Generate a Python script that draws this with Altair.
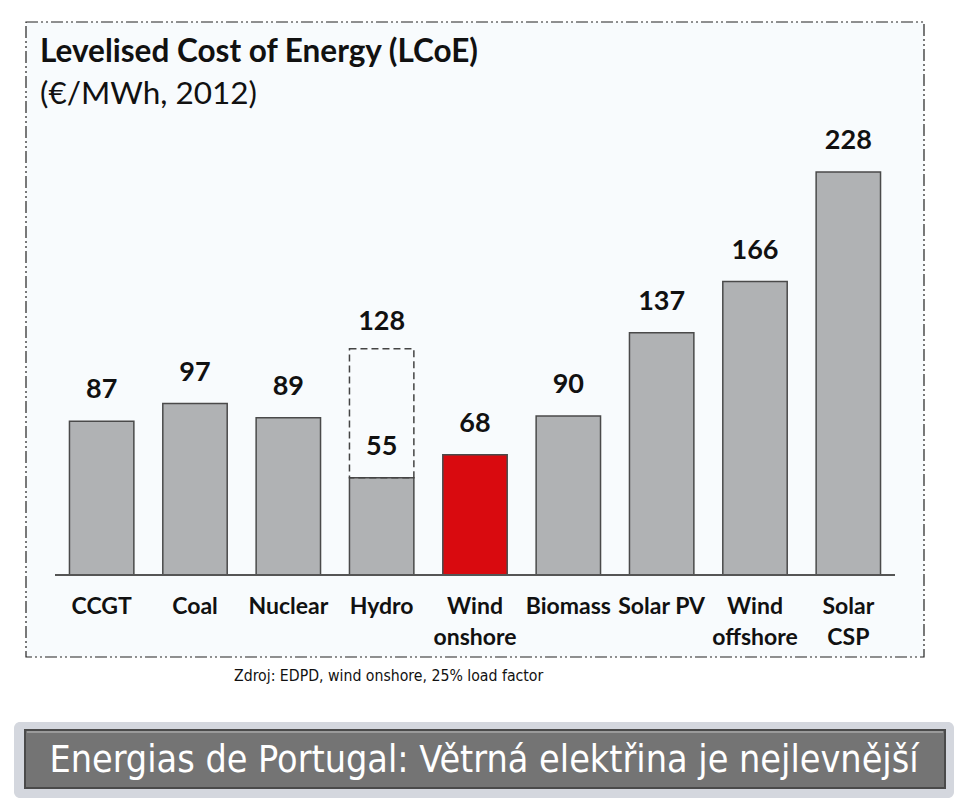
import altair as alt
import pandas as pd

categories = ["CCGT", "Coal", "Nuclear", "Hydro", "Wind|onshore", "Biomass",
              "Solar PV", "Wind|offshore", "Solar|CSP"]
values = [87, 97, 89, 55, 68, 90, 137, 166, 228]
colors = ["#b0b2b4", "#b0b2b4", "#b0b2b4", "#b0b2b4", "#d90a0f", "#b0b2b4",
          "#b0b2b4", "#b0b2b4", "#b0b2b4"]
hydro_upper = [128]
hydro_cat = ["Hydro"]

df = pd.DataFrame({"cat": categories, "val": values, "color": colors,
                   "lab": [str(v) for v in values]})
dh = pd.DataFrame({"cat": hydro_cat, "val": hydro_upper, "lab": [str(v) for v in hydro_upper]})

W, H = 960, 802
xs = alt.Scale(domain=categories, range=[55, 895], paddingInner=0.31, paddingOuter=0.155)
ys = alt.Scale(domain=[0, 250], range=[575, 133])
X = alt.X("cat:N", scale=xs, axis=None, sort=categories)
Y = alt.Y("val:Q", scale=ys, axis=None)

one = pd.DataFrame({"a": [0]})
base1 = alt.Chart(one)
NARROW = "Liberation Sans Narrow, DejaVu Sans Condensed, Roboto Condensed, Roboto, sans-serif"

bg_box = base1.mark_rect(fill="#f8fbfd", stroke="#222222", strokeWidth=1.2,
                         strokeDash=[12, 3, 2, 3, 2, 3]).encode(
    x=alt.value(26), x2=alt.value(924), y=alt.value(22), y2=alt.value(657))

title1 = base1.mark_text(text="Levelised Cost of Energy (LCoE)", font="Lato", fontWeight="bold",
                         fontSize=31.5, align="left", baseline="middle", color="#111111").encode(
    x=alt.value(40), y=alt.value(53))
title2 = base1.mark_text(text="(€/MWh, 2012)", font="Lato", fontSize=31.5, align="left",
                         baseline="middle", color="#111111").encode(
    x=alt.value(40), y=alt.value(95))

bars = alt.Chart(df).mark_bar(stroke="#4a4a4a", strokeWidth=1.5).encode(
    x=X, y=Y, y2=alt.datum(0), color=alt.Color("color:N", scale=None))

hydro_box = alt.Chart(dh).mark_bar(fill=None, stroke="#444444", strokeWidth=1.5,
                                   strokeDash=[7, 4]).encode(x=X, y=Y, y2=alt.datum(55))

labels = alt.Chart(df).mark_text(font="Lato", fontWeight="bold", fontSize=27, dy=-31,
                                 baseline="middle", color="#111111").encode(
    x=X, y=Y, text="lab:N")
hlabel = alt.Chart(dh).mark_text(font="Lato", fontWeight="bold", fontSize=27, dy=-27,
                                 baseline="middle", color="#111111").encode(
    x=X, y=Y, text="lab:N")

baseline = base1.mark_rule(color="#555555", strokeWidth=2).encode(
    x=alt.value(55), x2=alt.value(895), y=alt.value(575))

catlabels = alt.Chart(df).mark_text(font="Lato", fontWeight="bold", fontSize=23, lineBreak="|",
                                    lineHeight=31, baseline="middle", color="#111111").encode(
    x=X, y=alt.value(607), text="cat:N")

source = base1.mark_text(text="Zdroj: EDPD, wind onshore, 25% load factor",
                         font=NARROW, fontSize=15.7, align="left",
                         baseline="middle", color="#111111").encode(
    x=alt.value(234), y=alt.value(676))

shadow = base1.mark_rect(fill="#b8bcc8", opacity=0.6, cornerRadius=6).encode(
    x=alt.value(14), x2=alt.value(954), y=alt.value(722), y2=alt.value(798))
banner = base1.mark_rect(fill="#747474", stroke="#4a4a4a", strokeWidth=2).encode(
    x=alt.value(25), x2=alt.value(945), y=alt.value(730), y2=alt.value(788))
banner_hi = base1.mark_rule(color="#9a9a9a", strokeWidth=2).encode(
    x=alt.value(27), x2=alt.value(943), y=alt.value(732))
banner_text = base1.mark_text(text="Energias de Portugal: Větrná elektřina je nejlevnější",
                              font=NARROW, fontSize=37.4, align="center",
                              baseline="middle", color="#ffffff").encode(
    x=alt.value(484), y=alt.value(761))

chart = alt.layer(bg_box, title1, title2, bars, hydro_box, labels, hlabel, baseline,
                  catlabels, source, shadow, banner, banner_hi, banner_text).properties(
    width=W, height=H, padding=0, autosize=alt.AutoSizeParams(type="none"),
    background="#ffffff"
).configure_view(stroke=None)

chart.save("out.html", embed_options={"renderer": "svg", "actions": False})
